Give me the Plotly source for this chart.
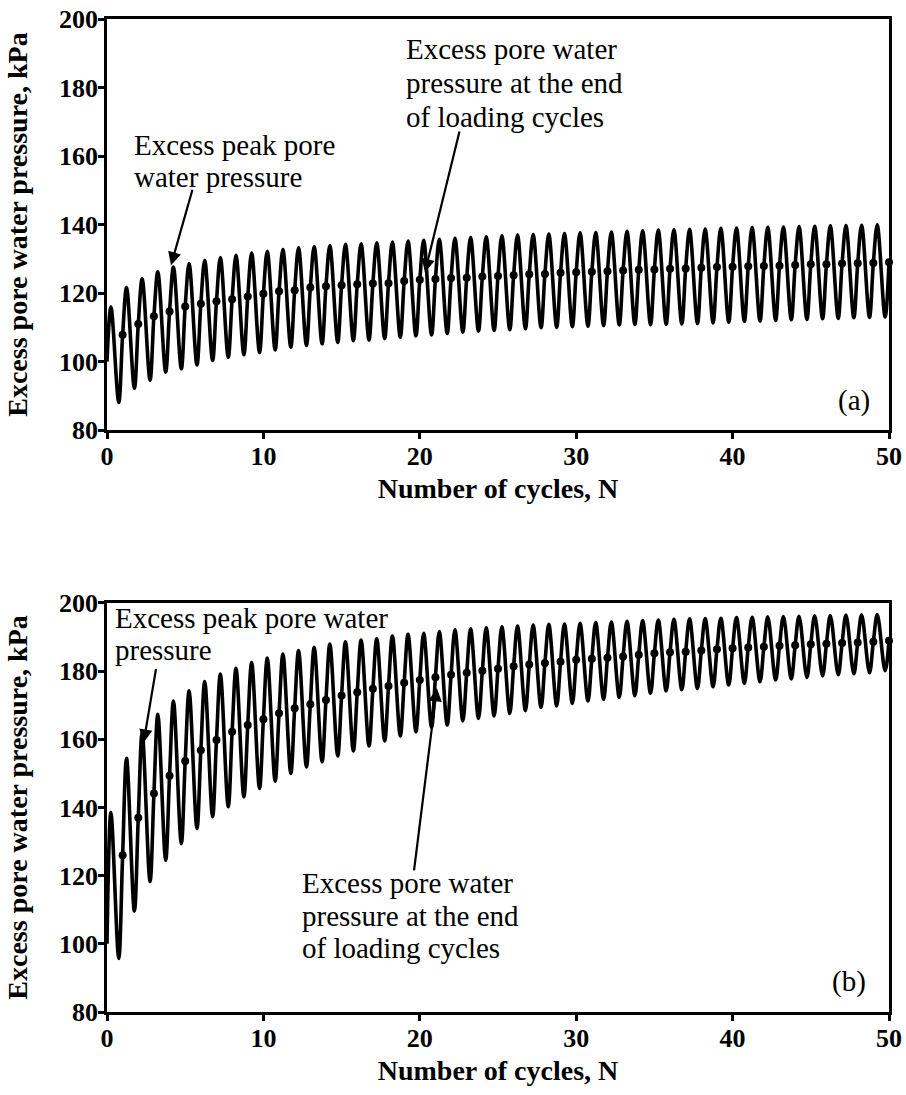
import plotly.graph_objects as go

# ---- Test (a): excess pore water pressure (kPa) ----
a_start = 100.0
a_peaks = [115.9, 121.6, 124.2, 126.2, 127.6, 128.6, 129.6, 130.4, 131.0, 131.7,
           132.2, 132.7, 133.2, 133.6, 133.9, 134.2, 134.4, 134.7, 134.9, 135.2,
           135.4, 135.7, 136.0, 136.2, 136.4, 136.7, 136.9, 137.1, 137.2, 137.4,
           137.6, 137.7, 137.8, 138.0, 138.2, 138.4, 138.5, 138.6, 138.7, 138.9,
           139.0, 139.1, 139.2, 139.3, 139.4, 139.5, 139.6, 139.7, 139.8, 139.9]
a_troughs = [88.1, 92.2, 94.6, 96.9, 97.9, 99.0, 100.3, 101.3, 102.0, 102.7,
             103.4, 104.2, 104.7, 105.2, 105.6, 106.1, 106.3, 106.7, 107.1, 107.5,
             107.8, 108.2, 108.6, 108.9, 109.1, 109.3, 109.6, 109.9, 110.0, 110.2,
             110.3, 110.5, 110.7, 110.8, 110.8, 110.9, 111.0, 111.1, 111.3, 111.5,
             111.7, 111.8, 112.0, 112.2, 112.3, 112.5, 112.6, 112.8, 112.9, 113.0]
a_end = [107.8, 111.0, 113.2, 114.6, 116.1, 116.9, 117.6, 118.2, 119.0, 119.8,
         120.5, 120.8, 121.6, 122.0, 122.3, 122.6, 122.8, 122.9, 123.5, 123.9,
         124.1, 124.4, 124.5, 124.8, 125.0, 125.2, 125.5, 125.6, 125.9, 126.1,
         126.2, 126.4, 126.6, 126.8, 126.9, 127.1, 127.2, 127.4, 127.6, 127.7,
         127.8, 127.9, 128.0, 128.2, 128.4, 128.4, 128.6, 128.7, 128.8, 129.0]

# ---- Test (b) ----
b_start = 100.0
b_peaks = [138.5, 154.4, 161.9, 167.3, 171.2, 174.2, 176.9, 179.1, 180.8, 182.5,
           183.8, 185.0, 186.0, 187.0, 187.9, 188.6, 189.1, 189.5, 190.3, 190.8,
           191.1, 191.6, 192.1, 192.4, 192.7, 193.0, 193.2, 193.5, 193.7, 193.8,
           194.0, 194.2, 194.4, 194.6, 194.8, 195.0, 195.2, 195.3, 195.4, 195.5,
           195.7, 195.8, 195.9, 196.0, 196.1, 196.2, 196.3, 196.4, 196.5, 196.6]
b_troughs = [95.7, 109.6, 118.2, 124.5, 129.4, 133.8, 137.3, 140.2, 143.1, 145.6,
             147.7, 150.0, 151.9, 153.4, 155.1, 156.6, 158.0, 159.5, 161.0, 162.2,
             163.5, 164.2, 165.4, 166.1, 166.8, 167.6, 168.4, 169.3, 169.8, 170.5,
             171.2, 171.7, 172.3, 172.8, 173.5, 174.2, 174.5, 174.9, 175.4, 175.9,
             176.4, 176.9, 177.4, 177.7, 178.1, 178.6, 178.9, 179.2, 179.5, 180.1]
b_end = [126.0, 137.0, 144.1, 149.3, 153.6, 156.8, 159.8, 162.2, 164.2, 165.9,
         167.6, 169.1, 170.3, 171.5, 172.8, 173.8, 174.8, 175.6, 176.6, 177.4,
         178.2, 178.9, 179.5, 180.1, 180.7, 181.4, 181.9, 182.4, 182.7, 183.3,
         183.6, 183.9, 184.3, 184.8, 185.2, 185.5, 185.7, 186.0, 186.4, 186.7,
         186.9, 187.1, 187.4, 187.6, 187.9, 188.0, 188.2, 188.4, 188.6, 188.9]

cycles = list(range(1, 51))
x_ticks = [0, 10, 20, 30, 40, 50]
y_ticks = [80, 100, 120, 140, 160, 180, 200]

SERIF = "Liberation Serif, Times New Roman, serif"


def wave(start, peaks, troughs, ends):
    """Per-cycle key points: start of cycle, peak at 1/4, trough at 3/4."""
    xs, ys = [], []
    level = start
    for k in range(len(peaks)):
        xs += [k, k + 0.25, k + 0.75]
        ys += [level, peaks[k], troughs[k]]
        level = ends[k]
    xs.append(len(peaks))
    ys.append(ends[-1])
    return xs, ys


fig = go.Figure()
for start, pk, tr, en, xa, ya in [(a_start, a_peaks, a_troughs, a_end, "x", "y"),
                                  (b_start, b_peaks, b_troughs, b_end, "x2", "y2")]:
    wx, wy = wave(start, pk, tr, en)
    fig.add_trace(go.Scatter(x=wx, y=wy, mode="lines", xaxis=xa, yaxis=ya,
                             line=dict(color="black", width=3.6, shape="spline", smoothing=1.0),
                             showlegend=False, hoverinfo="skip"))
    fig.add_trace(go.Scatter(x=cycles, y=en, mode="markers", xaxis=xa, yaxis=ya,
                             marker=dict(color="black", size=8),
                             showlegend=False, cliponaxis=False))

axis_common = dict(showline=True, linecolor="black", linewidth=2.5, mirror=True,
                   ticks="outside", ticklen=6, tickwidth=2.5, tickcolor="black",
                   showgrid=False, zeroline=False, automargin=False,
                   ticklabelstandoff=-5,
                   tickfont=dict(family=SERIF, size=26, color="black", weight="bold"))
xtitle = dict(text="Number of cycles, N", standoff=9,
              font=dict(family=SERIF, size=28, color="black", weight="bold"))
ytitle = dict(text="Excess pore water pressure, kPa", standoff=24,
              font=dict(family=SERIF, size=28, color="black", weight="bold"))

fig.update_layout(
    width=906, height=1095,
    margin=dict(l=107, r=17, t=19, b=83),
    paper_bgcolor="white", plot_bgcolor="white",
    xaxis=dict(axis_common, domain=[0, 1], range=[0, 50], tickvals=x_ticks, anchor="y", title=xtitle),
    yaxis=dict(axis_common, domain=[0.586, 1.0], range=[80, 200], tickvals=y_ticks, anchor="x", title=ytitle),
    xaxis2=dict(axis_common, domain=[0, 1], range=[0, 50], tickvals=x_ticks, anchor="y2", title=xtitle),
    yaxis2=dict(axis_common, domain=[0, 0.412], range=[80, 200], tickvals=y_ticks, anchor="x2", title=ytitle),
)

TXT = dict(family=SERIF, size=29, color="black")


def label(x, y, text, xr, yr, xanchor="left"):
    fig.add_annotation(x=x, y=y, xref=xr, yref=yr, text=text, showarrow=False,
                       xanchor=xanchor, yanchor="middle", font=TXT)


def arrow(x_tip, y_tip, x_tail, y_tail, xr, yr):
    fig.add_annotation(x=x_tip, y=y_tip, ax=x_tail, ay=y_tail, xref=xr, yref=yr,
                       axref=xr, ayref=yr, text="", showarrow=True,
                       arrowhead=2, arrowsize=1.2, arrowwidth=2.2, arrowcolor="black")


# panel (a)
label(1.62, 163.2, "Excess peak pore", "x", "y")
label(1.62, 154.0, "water pressure", "x", "y")
arrow(4.09, 128.1, 5.49, 150.6, "x", "y")
label(18.99, 191.1, "Excess pore water", "x", "y")
label(18.99, 181.3, "pressure at the end", "x", "y")
label(18.99, 171.5, "of loading cycles", "x", "y")
arrow(20.33, 126.1, 22.56, 167.6, "x", "y")
label(47.78, 88.6, "(a)", "x", "y", xanchor="center")

# panel (b)
label(0.4, 195.6, "Excess peak pore water", "x2", "y2")
label(0.4, 186.2, "pressure", "x2", "y2")
arrow(2.34, 159.0, 3.15, 181.1, "x2", "y2")
label(12.34, 117.8, "Excess pore water", "x2", "y2")
label(12.34, 108.1, "pressure at the end", "x2", "y2")
label(12.34, 98.7, "of loading cycles", "x2", "y2")
arrow(21.09, 175.0, 19.62, 121.1, "x2", "y2")
label(47.46, 88.8, "(b)", "x2", "y2", xanchor="center")

fig.write_html("out.html")
